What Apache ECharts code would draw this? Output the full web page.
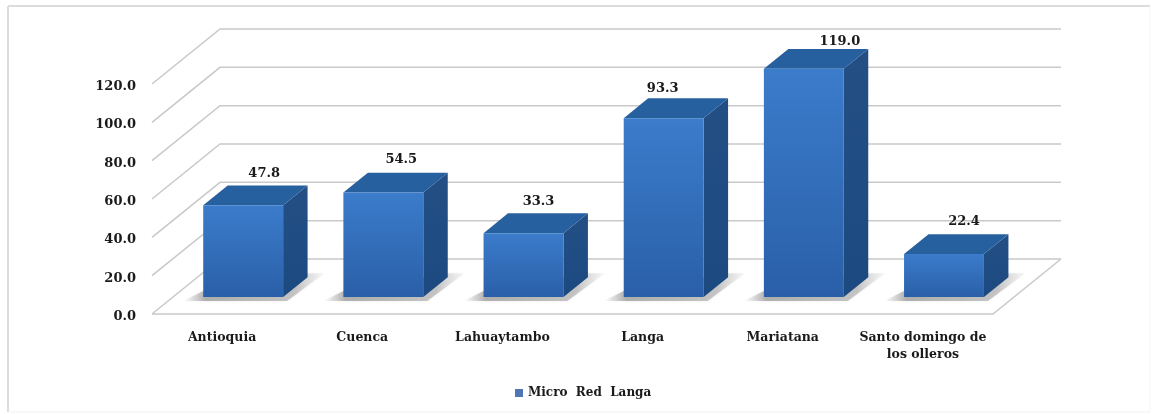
<!DOCTYPE html>
<html><head><meta charset="utf-8">
<style>html,body{margin:0;padding:0;background:#fff}#c{width:1155px;height:414px}</style>
<script src="https://cdn.jsdelivr.net/npm/echarts@6/dist/echarts.min.js"></script>
</head><body><div id="c"></div>
<script>
const categories = ['Antioquia','Cuenca','Lahuaytambo','Langa','Mariatana','Santo domingo de\nlos olleros'];
const values = [47.8,54.5,33.3,93.3,119.0,22.4];
const valueTicks = [0,20,40,60,80,100,120];
const seriesName = 'Micro  Red  Langa';
const labelNudgeX = [21,18,15,-1,36,20];
const labelNudgeY = [-12,-13,-12,-10,-7,-13];

const FONT = '"DejaVu Serif"';
const DEPTH_X = 68, DEPTH_Y = 55, BAR_NEAR = 0.31, BAR_FAR = 0.67;
const proj = (x,y,d) => [x+d*DEPTH_X, y-d*DEPTH_Y];
const GRID = '#c9c9c9';
const INK = '#1a1a1a';

const chart = echarts.init(document.getElementById('c'),null,{renderer:'canvas'});
chart.setOption({
  animation:false,
  backgroundColor:'#fff',
  textStyle:{fontFamily:FONT},
  graphic:[
    {type:'line',silent:true,z:-1,shape:{x1:8,y1:6,x2:1150,y2:6},style:{stroke:'#dcdcdc',lineWidth:2}},
    {type:'line',silent:true,z:-1,shape:{x1:8,y1:6,x2:8,y2:412},style:{stroke:'#dcdcdc',lineWidth:2}},
    {type:'line',silent:true,z:-1,shape:{x1:1150,y1:6,x2:1150,y2:412},style:{stroke:'#f4f4f4',lineWidth:1}},
    {type:'line',silent:true,z:-1,shape:{x1:8,y1:412,x2:1150,y2:412},style:{stroke:'#f2f2f2',lineWidth:1}}
  ],
  grid:{left:152,right:162,top:84,bottom:100},
  legend:{
    show:true,left:510,top:382,icon:'rect',itemWidth:8,itemHeight:8,itemGap:4,
    data:[seriesName],
    textStyle:{fontFamily:FONT,fontWeight:'bold',fontSize:12,color:INK}
  },
  xAxis:{
    type:'category',data:categories,
    axisLine:{show:false},axisTick:{show:false},splitLine:{show:false},
    axisLabel:{interval:0,margin:15,fontFamily:FONT,fontWeight:'bold',fontSize:12.5,color:INK,lineHeight:17}
  },
  yAxis:{
    type:'value',min:0,max:120,interval:20,
    axisLine:{show:false},axisTick:{show:false},splitLine:{show:false},
    axisLabel:{margin:16,fontFamily:FONT,fontWeight:'bold',fontSize:13,color:INK,verticalAlign:'top',lineHeight:5,formatter:v=>v.toFixed(1)}
  },
  series:[
    {
      type:'custom',silent:true,z:1,legendHoverLink:false,
      coordinateSystem:'cartesian2d',
      data:valueTicks.map(v=>[0,v]),
      renderItem(params,api){
        const cs=params.coordSys;
        const y=api.coord([0,api.value(1)])[1];
        const a=[cs.x,y], b=proj(cs.x,y,1), c=proj(cs.x+cs.width,y,1);
        const children=[{type:'polyline',shape:{points:[a,b,c]},style:{fill:null,stroke:GRID,lineWidth:1.5}}];
        if(api.value(1)===0){
          const r=[cs.x+cs.width,y];
          children.push({type:'polyline',shape:{points:[a,r,c]},style:{fill:null,stroke:GRID,lineWidth:1.5}});
        }
        return {type:'group',children};
      }
    },
    {
      type:'custom',name:seriesName,z:2,
      coordinateSystem:'cartesian2d',
      itemStyle:{color:'#4f75b5'},
      data:values.map((v,i)=>[i,v]),
      renderItem(params,api){
        const i=api.value(0), v=api.value(1);
        const base=api.coord([i,0]), top=api.coord([i,v]);
        const w=api.size([1,0])[0]*0.57;
        const cx=base[0];
        const l=cx-w/2, r=cx+w/2;
        const fbl=proj(l,base[1],BAR_NEAR), fbr=proj(r,base[1],BAR_NEAR);
        const ftl=proj(l,top[1],BAR_NEAR), ftr=proj(r,top[1],BAR_NEAR);
        const bbr=proj(r,base[1],BAR_FAR), btl=proj(l,top[1],BAR_FAR), btr=proj(r,top[1],BAR_FAR);
        const grad=new echarts.graphic.LinearGradient(0,0,0,1,[{offset:0,color:'#3b7ccb'},{offset:1,color:'#2a5fa8'}]);
        const sideGrad=new echarts.graphic.LinearGradient(0,0,0,1,[{offset:0,color:'#234f85'},{offset:1,color:'#1c4a80'}]);
        const shadowGrad=new echarts.graphic.LinearGradient(0,0,1,0,[
          {offset:0,color:'rgba(150,150,150,0)'},{offset:0.16,color:'rgba(130,130,130,.6)'},
          {offset:0.8,color:'rgba(140,140,140,.45)'},{offset:1,color:'rgba(190,190,190,.1)'}]);
        const cxBack=cx+BAR_NEAR*DEPTH_X;
        return {type:'group',children:[
          {type:'polygon',shape:{points:[[fbl[0]-20,fbl[1]+4],[fbr[0]+4,fbr[1]+4],[bbr[0]+17,bbr[1]-4],[bbr[0],bbr[1]-4],[fbl[0],fbl[1]-6]]},
            style:{fill:shadowGrad,shadowBlur:3,shadowColor:'rgba(160,160,160,.35)'}},
          {type:'polygon',shape:{points:[fbr,bbr,btr,ftr]},style:{fill:sideGrad}},
          {type:'polygon',shape:{points:[ftl,ftr,btr,btl]},style:{fill:'#27609f'}},
          {type:'polygon',shape:{points:[fbl,fbr,ftr,ftl]},style:{fill:grad}},
          {type:'text',style:{
            x:cxBack+labelNudgeX[i],y:btl[1]+labelNudgeY[i],text:v.toFixed(1),
            align:'center',verticalAlign:'middle',
            fontFamily:FONT,fontWeight:'bold',fontSize:13,fill:INK}}
        ]};
      }
    }
  ]
});
</script></body></html>
